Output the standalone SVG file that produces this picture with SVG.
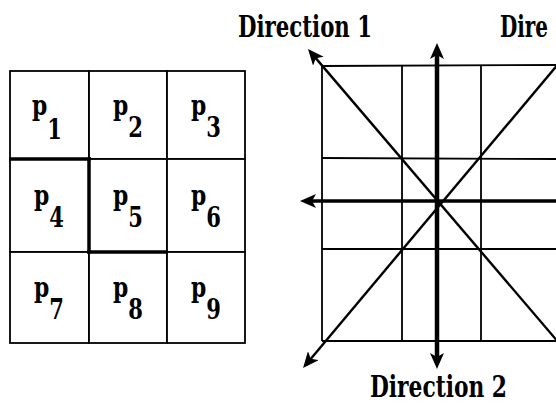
<svg xmlns="http://www.w3.org/2000/svg" width="556" height="408" viewBox="0 0 556 408">
<style>
.cell{fill:#fff;stroke:#000;stroke-width:1.8}
.thick{stroke:#000;stroke-width:3.5;fill:none;stroke-linecap:square}
.grid{stroke:#000;stroke-width:1.8;fill:none}
.lab{font-family:"DejaVu Serif","Liberation Serif",serif;font-weight:bold;font-size:28px;fill:#000;text-anchor:middle}
.sub{font-size:27px}
.dir{font-family:"DejaVu Serif","Liberation Serif",serif;font-weight:bold;font-size:29px;fill:#000}
.arr{stroke:#000;fill:none}
</style>
<defs>
<marker id="ah" viewBox="0 0 16 14" refX="10" refY="7" markerWidth="16" markerHeight="14" markerUnits="userSpaceOnUse" orient="auto-start-reverse">
<path d="M0,0 L16,7 L0,14 L4,7 z" fill="#000"/>
</marker>
</defs>
<rect width="556" height="408" fill="#fff"/>

<g id="p1"><rect class="cell" x="10" y="71" width="79" height="88"/><g transform="translate(47,115) scale(0.78,1)"><text class="lab">p<tspan class="sub" dy="24">1</tspan></text></g></g>
<g id="p2"><rect class="cell" x="89" y="71" width="78" height="88"/><g transform="translate(128,115) scale(0.78,1)"><text class="lab">p<tspan class="sub" dy="22">2</tspan></text></g></g>
<g id="p3"><rect class="cell" x="167" y="71" width="78" height="88"/><g transform="translate(206,115) scale(0.78,1)"><text class="lab">p<tspan class="sub" dy="22">3</tspan></text></g></g>
<g id="p4"><rect class="cell" x="10" y="159" width="79" height="93"/><g transform="translate(49,205) scale(0.78,1)"><text class="lab">p<tspan class="sub" dy="22">4</tspan></text></g></g>
<g id="p5"><rect class="cell" x="89" y="159" width="78" height="93"/><g transform="translate(128,205) scale(0.78,1)"><text class="lab">p<tspan class="sub" dy="22">5</tspan></text></g></g>
<g id="p6"><rect class="cell" x="167" y="159" width="78" height="93"/><g transform="translate(206,205) scale(0.78,1)"><text class="lab">p<tspan class="sub" dy="22">6</tspan></text></g></g>
<g id="p7"><rect class="cell" x="10" y="252" width="79" height="91"/><g transform="translate(49,297) scale(0.78,1)"><text class="lab">p<tspan class="sub" dy="22">7</tspan></text></g></g>
<g id="p8"><rect class="cell" x="89" y="252" width="78" height="91"/><g transform="translate(128,297) scale(0.78,1)"><text class="lab">p<tspan class="sub" dy="22">8</tspan></text></g></g>
<g id="p9"><rect class="cell" x="167" y="252" width="78" height="91"/><g transform="translate(206,297) scale(0.78,1)"><text class="lab">p<tspan class="sub" dy="22">9</tspan></text></g></g>

<g id="thick-borders">
<line class="thick" x1="11" y1="159" x2="89" y2="159"/>
<line class="thick" x1="89" y1="159" x2="89" y2="252"/>
<line class="thick" x1="89" y1="252" x2="166" y2="252"/>
</g>

<g id="direction-grid">
<line class="grid" x1="322" y1="66" x2="556" y2="65"/>
<line class="grid" x1="322" y1="158" x2="556" y2="159"/>
<line class="grid" x1="322" y1="249" x2="556" y2="249"/>
<line class="grid" x1="322" y1="341" x2="556" y2="341"/>
<line class="grid" x1="322" y1="66" x2="322" y2="341"/>
<line class="grid" x1="402" y1="66" x2="402" y2="341"/>
<line class="grid" x1="481" y1="66" x2="481" y2="341"/>
</g>

<g id="connectors">
<line class="arr" stroke-width="4.5" x1="437" y1="49" x2="437" y2="363" marker-start="url(#ah)" marker-end="url(#ah)"/>
<line class="arr" stroke-width="3.5" x1="306" y1="201" x2="558" y2="201" marker-start="url(#ah)"/>
<line class="arr" stroke-width="2.4" x1="311.9" y1="53.6" x2="559" y2="343" marker-start="url(#ah)"/>
<line class="arr" stroke-width="2.4" x1="306.9" y1="363.4" x2="559" y2="63" marker-start="url(#ah)"/>
</g>

<g id="labels">
<text class="dir" x="238" y="37" textLength="134" lengthAdjust="spacingAndGlyphs">Direction 1</text>
<text class="dir" x="500" y="37" textLength="48" lengthAdjust="spacingAndGlyphs">Dire</text>
<text class="dir" x="370" y="397" textLength="137" lengthAdjust="spacingAndGlyphs">Direction 2</text>
</g>
</svg>
